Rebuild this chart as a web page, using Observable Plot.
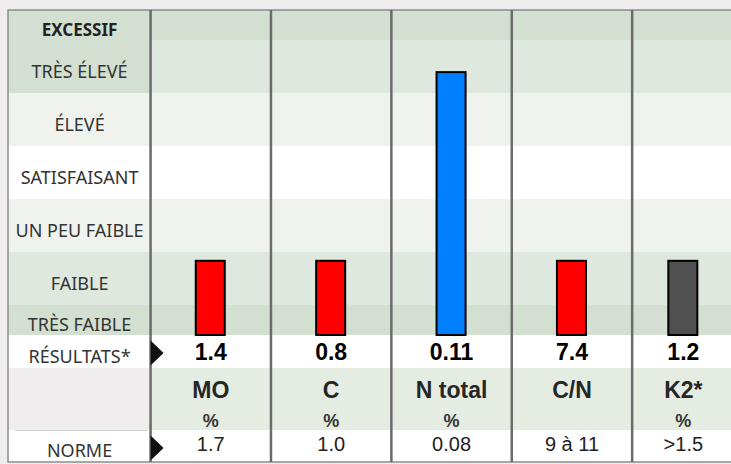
<!DOCTYPE html>
<html><head><meta charset="utf-8">
<script src="https://cdn.jsdelivr.net/npm/d3@7"></script>
<script src="https://cdn.jsdelivr.net/npm/@observablehq/plot@0.6"></script>
<style>
html,body{margin:0;padding:0;background:#efedee;overflow:hidden;}
#chart svg{display:block;}
</style></head><body><div id="chart"></div>
<script>
// ---------- data ----------
const params   = ["MO", "C", "N total", "C/N", "K2*"];
const units    = ["%", "%", "%", "", "%"];
const results  = ["1.4", "0.8", "0.11", "7.4", "1.2"];
const norms    = ["1.7", "1.0", "0.08", "9 à 11", ">1.5"];
const barLevels = [1.4, 1.4, 4.96, 1.4, 1.4];        // height reached on the rating scale
const statuses = ["faible", "faible", "très élevé", "faible", "autre"];
const levels   = ["TRÈS FAIBLE", "FAIBLE", "UN PEU FAIBLE", "SATISFAISANT", "ÉLEVÉ", "TRÈS ÉLEVÉ", "EXCESSIF"];
const bottomRows = ["RÉSULTATS*", "", "NORME"];

// ---------- layout ----------
const NCOL = params.length;
const LABEL_W = 1.18, LAST_W = 0.85, BAR_W = 0.241;
const colX1 = params.map((_, i) => i);
const colX2 = params.map((_, i) => i === NCOL - 1 ? i + LAST_W : i + 1);
const colMid = params.map((_, i) => (colX1[i] + colX2[i]) / 2);
const XMAX = NCOL - 1 + LAST_W;
const EXT = 0.566;
const TOP = 2 * EXT + levels.length - 2;
const RES = [-0.623, 0], NAME = [-1.792, -0.623], NORM = [-2.396, -1.792];
const BOTTOM = NORM[0];

const levelFill = ["#d3dfd0", "#dfe8de", "#f0f3ed", "#ffffff", "#f0f3ed", "#dfe8de", "#d3dfd0"];
const rows = levels.map((name, i) => ({
  name,
  y1: i === 0 ? 0 : EXT + i - 1,
  y2: i === 0 ? EXT : (i === levels.length - 1 ? TOP : EXT + i),
  fill: levelFill[i],
  leftFill: i >= levels.length - 2 ? "#d3dfd0" : levelFill[i],
  bold: name === "EXCESSIF"
}));
const bottomBounds = [RES, NAME, NORM];
const bottomFill = ["#ffffff", "#e5ece2", "#ffffff"];
const bottomLeftFill = ["#ffffff", "#efedee", "#ffffff"];
bottomRows.forEach((name, i) => rows.push({
  name, y1: bottomBounds[i][0], y2: bottomBounds[i][1],
  fill: bottomFill[i], leftFill: bottomLeftFill[i], bold: false
}));
const mid = r => (r.y1 + r.y2) / 2;

const arrow = {
  draw(ctx) { ctx.moveTo(0, -12.5); ctx.lineTo(13, 0); ctx.lineTo(0, 12.5); ctx.closePath(); }
};

const SANS = "'Noto Sans', sans-serif";
const ARIAL = "'Liberation Sans', Arial, sans-serif";
const idx = params.map((_, i) => i);

const chart = Plot.plot({
  width: 731, height: 464,
  marginTop: 10, marginBottom: 2, marginLeft: 8, marginRight: 0,
  x: {domain: [-LABEL_W, XMAX], range: [8, 734], axis: null},
  y: {domain: [BOTTOM, TOP], axis: null},
  color: {domain: ["faible", "très élevé", "autre"], range: ["#ff0000", "#0080ff", "#505050"]},
  style: {background: "#efedee"},
  marks: [
    // left label column cells
    Plot.rect(rows, {x1: () => -LABEL_W, x2: () => 0, y1: "y1", y2: "y2", fill: d => d.leftFill}),
    // data area cells
    Plot.rect(rows, {x1: () => 0, x2: () => XMAX, y1: "y1", y2: "y2", fill: d => d.fill}),
    // faint separator in label column
    Plot.ruleY([NAME[0]], {x1: () => -LABEL_W + 0.06, x2: () => -0.02, stroke: "#cfcfcf", strokeWidth: 1}),
    // table outline
    Plot.rect([0], {x1: () => -LABEL_W, x2: () => XMAX, y1: () => BOTTOM, y2: () => TOP, fill: "none", stroke: "#8c8c8c", strokeWidth: 1.5}),
    // column separators
    Plot.ruleX(idx, {x: i => colX1[i], y1: () => BOTTOM, y2: () => TOP, stroke: "#6b6b6b", strokeWidth: 2.5}),
    // bars
    Plot.rect(idx, {
      x1: i => colMid[i] - BAR_W / 2, x2: i => colMid[i] + BAR_W / 2,
      y1: () => 0, y2: i => barLevels[i],
      fill: i => statuses[i], stroke: "#000", strokeWidth: 2
    }),
    // left labels (regular)
    Plot.text(rows.filter(r => r.name && !r.bold), {
      x: () => -LABEL_W / 2, y: mid, text: "name", dy: 5,
      fontFamily: SANS, fontSize: 18, fill: "#333"
    }),
    // left labels (bold)
    Plot.text(rows.filter(r => r.bold), {
      x: () => -LABEL_W / 2, y: mid, text: "name", dy: 5,
      fontFamily: SANS, fontSize: 17, fontWeight: "bold", fill: "#222"
    }),
    // result values
    Plot.text(idx, {x: i => colMid[i], y: () => (RES[0] + RES[1]) / 2, text: i => results[i],
      fontFamily: ARIAL, fontSize: 23, fontWeight: "bold", fill: "#000", dy: 1}),
    // parameter names
    Plot.text(idx, {x: i => colMid[i], y: () => (NAME[0] + NAME[1]) / 2, text: i => params[i],
      fontFamily: ARIAL, fontSize: 23, fontWeight: "bold", fill: "#262626", dy: -9,
      letterSpacing: "-0.8px"}),
    // units
    Plot.text(idx, {x: i => colMid[i], y: () => (NAME[0] + NAME[1]) / 2, text: i => units[i],
      fontFamily: ARIAL, fontSize: 18, fontWeight: "bold", fill: "#333", dy: 21.5}),
    // norms
    Plot.text(idx, {x: i => colMid[i], y: () => (NORM[0] + NORM[1]) / 2, text: i => norms[i],
      fontFamily: ARIAL, fontSize: 20, fill: "#222", dy: -2}),
    // pointer triangles
    Plot.dot([(RES[0] + RES[1]) / 2 - 0.02, (NORM[0] + NORM[1]) / 2 - 0.03], {
      x: () => 0, y: d => d, symbol: arrow, r: 10, fill: "#111", stroke: "none"
    })
  ]
});
document.getElementById("chart").append(chart);
</script></body></html>
